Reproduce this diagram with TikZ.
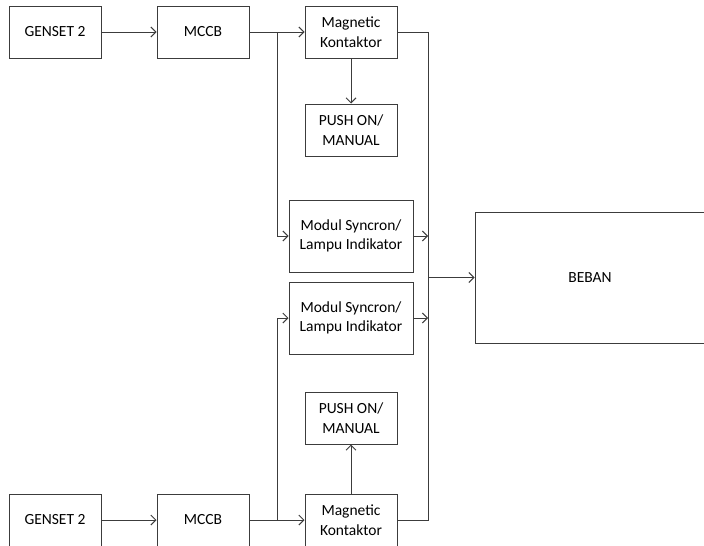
\documentclass[tikz,border=0pt]{standalone}
\usepackage{fontspec}
\setmainfont{Carlito}
\usetikzlibrary{arrows.meta}
\definecolor{linec}{RGB}{60,60,60}
\begin{document}
\begin{tikzpicture}[x=1pt,y=-1pt,
  box/.style={draw=linec, line width=1pt, minimum width=92pt, minimum height=52pt, inner sep=0pt, align=center, font=\fontsize{15.5}{19.5}\selectfont},
  wide/.style={box, minimum width=124pt, minimum height=72pt},
  conn/.style={draw=linec, line width=1pt},
  arr/.style={conn, -{Straight Barb[length=5pt,width=10pt]}}]
\useasboundingbox (0,0) rectangle (704,546);
% top branch
\node[box] (g1) at (55,32) {GENSET 2};
\node[box] (m1) at (203,32) {MCCB};
\node[box] (k1) at (351,32) {Magnetic\\Kontaktor};
\node[box] (p1) at (351,130) {PUSH ON/\\MANUAL};
\node[wide] (s1) at (351,236) {Modul Syncron/\\Lampu Indikator};
% bottom branch
\node[wide] (s2) at (351,318) {Modul Syncron/\\Lampu Indikator};
\node[box] (p2) at (351,418) {PUSH ON/\\MANUAL};
\node[box] (g2) at (55,520) {GENSET 2};
\node[box] (m2) at (203,520) {MCCB};
\node[box] (k2) at (351,520) {Magnetic\\Kontaktor};
% load
\node[box, minimum width=230pt, minimum height=131pt] (beban) at (590,277.5) {BEBAN};
% junctions
\coordinate (j1) at (277,32);
\coordinate (j2) at (277,520);
\coordinate (bt) at (428,32);
\coordinate (bb) at (428,520);
\coordinate (bj) at (428,277.5);
% connectors top
\draw[arr] (g1) -- (m1);
\draw[arr] (m1) -- (k1);
\draw[arr] (j1) |- (s1.west);
\draw[arr] (k1) -- (p1);
\draw[arr] (s1.east) -- (s1.east -| bt);
% connectors bottom
\draw[arr] (g2) -- (m2);
\draw[arr] (m2) -- (k2);
\draw[arr] (j2) |- (s2.west);
\draw[arr] (k2) -- (p2);
\draw[arr] (s2.east) -- (s2.east -| bt);
% bus
\draw[conn] (k1.east) -- (bt) -- (bb) -- (k2.east);
\draw[arr] (bj) -- (beban);
\end{tikzpicture}
\end{document}
